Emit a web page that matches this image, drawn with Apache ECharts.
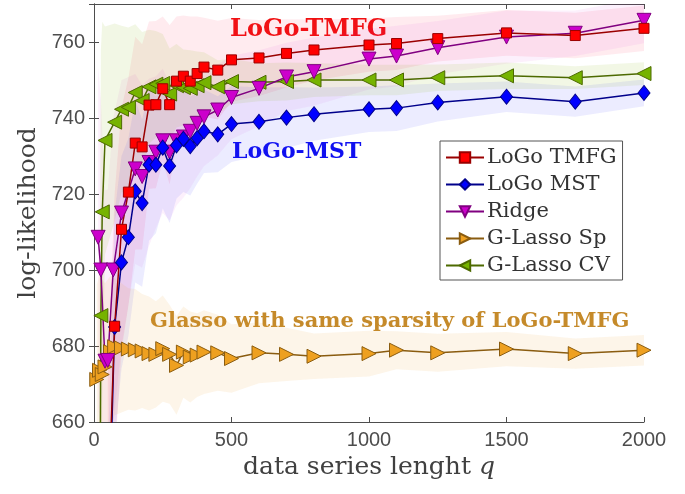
<!DOCTYPE html>
<html>
<head>
<meta charset="utf-8">
<script src="https://cdn.jsdelivr.net/npm/echarts@6/dist/echarts.min.js"></script>
<style>
  html, body { margin: 0; padding: 0; background: #fff; }
  #chart { width: 685px; height: 494px; }
</style>
</head>
<body>
<div id="chart"></div>
<script>
// x positions (q) and mean log-likelihood per method
const tmfgX = [50, 75, 100, 125, 150, 175, 200, 225, 250, 275, 300, 325, 350, 375, 400, 450, 500, 600, 700, 800, 1000, 1100, 1250, 1500, 1750, 2000]
const tmfgY = [633, 685.2, 710.7, 720.5, 733.4, 732.4, 743.4, 743.5, 747.7, 743.5, 749.7, 751, 749.7, 751.7, 753.4, 752.6, 755.3, 755.8, 757, 757.9, 759.2, 759.6, 760.9, 762.4, 761.7, 763.6]
const tmfgSpread = [40, 35, 32, 30, 28, 27, 22, 22, 19, 21, 17, 16, 17, 15, 13, 13, 11, 10, 9, 8, 7, 7, 6, 6, 6, 6]

const mstX = [50, 75, 100, 125, 150, 175, 200, 225, 250, 275, 300, 325, 350, 375, 400, 450, 500, 600, 700, 800, 1000, 1100, 1250, 1500, 1750, 2000]
const mstY = [620, 685, 702, 708.6, 720.7, 717.6, 727.7, 727.7, 732.2, 727.4, 732.8, 734.5, 732.6, 734.7, 736.5, 735.7, 738.4, 739, 740.1, 741, 742.3, 742.6, 744.1, 745.6, 744.3, 746.6]
const mstSpread = [30, 30, 28, 26, 24, 22, 20, 18, 16, 15, 14, 14, 13, 12, 11, 10, 10, 9, 8, 7, 6, 6, 5, 4, 4, 3.5]

const ridgeX = [15, 25, 40, 50, 70, 100, 150, 175, 200, 225, 250, 275, 300, 325, 350, 375, 400, 450, 500, 600, 700, 800, 1000, 1100, 1250, 1500, 1750, 2000]
const ridgeY = [708.6, 700, 676, 676.2, 700, 715, 726.6, 724.6, 728.3, 731, 734, 731, 734, 735, 736.5, 738.6, 740.3, 742.1, 745.4, 747.8, 750.8, 752.2, 755.5, 756.3, 758.5, 761.3, 762.3, 765.7]
const ridgeSpread = [45, 45, 45, 45, 40, 35, 25, 24, 22, 20, 19, 18, 17, 16, 15, 14, 13, 12, 11, 10, 9, 9, 8, 8, 7, 7, 6, 6]

const spX = [10, 20, 30, 40, 60, 75, 100, 125, 150, 175, 200, 225, 250, 275, 300, 325, 350, 375, 400, 450, 500, 600, 700, 800, 1000, 1100, 1250, 1500, 1750, 2000]
const spY = [671.2, 673.6, 672.5, 674.5, 678.5, 679.8, 679.5, 679.2, 679, 678.7, 678, 677.8, 679.3, 677.8, 674.9, 678.4, 677.1, 677.6, 678.4, 678.2, 676.7, 678.2, 677.8, 677.3, 678, 678.9, 678.2, 679.2, 678, 678.9]
const spSpread = [25, 25, 25, 22, 20, 18, 17, 16, 16, 15, 15, 14, 14, 13, 13, 12, 12, 11, 11, 10, 9, 8, 7, 6, 6, 5, 5, 4.5, 4, 4]

const cvX = [20, 25, 30, 40, 75, 100, 125, 150, 175, 200, 225, 250, 275, 300, 325, 350, 375, 400, 450, 500, 600, 700, 800, 1000, 1100, 1250, 1500, 1750, 2000]
const cvY = [600, 688, 715.3, 734.1, 738.9, 742.3, 742.8, 746.7, 744.6, 748.2, 748.9, 749.1, 746.3, 748.5, 748, 747.8, 748.5, 749.3, 748.2, 749.6, 749.4, 749.6, 750, 750, 750, 750.6, 751.1, 750.6, 751.7]
const cvSpread = [80, 70, 50, 30, 26, 22, 21, 18, 18, 15, 14, 13, 12, 11, 10, 10, 9, 8, 7, 6, 5, 5, 4.5, 4, 4, 3.5, 3.5, 3, 3]

const xTicks = [0, 500, 1000, 1500, 2000]
const yTicks = [660, 680, 700, 720, 740, 760]

const axisColor = '#4d4d4d'
const serif = 'DejaVu Serif'

const chart = echarts.init(document.getElementById('chart'))

// shaded band around a curve (mean ± spread)
const band = (name, xs, ys, spread, color) => ({
  name: name + ' band',
  type: 'custom',
  clip: true,
  silent: true,
  z: 1,
  encode: { x: 0, y: 1 },
  data: [[xs[0], ys[0]]],
  renderItem: (params, api) => {
    const upper = xs.map((x, i) => api.coord([x, ys[i] + spread[i]]))
    const lower = xs.map((x, i) => api.coord([x, ys[i] - spread[i]])).reverse()
    return {
      type: 'polygon',
      shape: { points: upper.concat(lower) },
      style: { fill: color },
    }
  },
})

const line = (name, xs, ys, lineColor, fill, symbol, size, rotate) => ({
  name,
  type: 'line',
  z: 3,
  data: xs.map((x, i) => [x, ys[i]]),
  symbol,
  symbolSize: size,
  symbolRotate: rotate,
  showAllSymbol: true,
  lineStyle: { color: lineColor, width: 1.5 },
  itemStyle: { color: fill, borderColor: lineColor, borderWidth: 1 },
  emphasis: { disabled: true },
})

const options = {
  animation: false,
  grid: { left: 94, right: 41, top: 4, bottom: 72 },
  xAxis: [
    {
      type: 'value',
      min: 0,
      max: 2000,
      interval: 500,
      position: 'bottom',
      axisLine: { lineStyle: { color: axisColor } },
      axisTick: { inside: true, length: 5, lineStyle: { color: axisColor } },
      splitLine: { show: false },
      axisLabel: {
        fontFamily: 'Liberation Sans',
        fontSize: 20,
        color: axisColor,
        margin: 8,
        formatter: (v) => (xTicks.includes(v) ? String(v) : ''),
      },
      name: '{a|data series lenght }{b|q}',
      nameLocation: 'middle',
      nameGap: 22,
      nameTextStyle: {
        rich: {
          a: { fontFamily: serif, fontSize: 25, color: '#404040' },
          b: { fontFamily: serif, fontSize: 25, color: '#404040', fontStyle: 'italic' },
        },
      },
    },
    {
      type: 'value',
      min: 0,
      max: 2000,
      interval: 500,
      position: 'top',
      axisLine: { lineStyle: { color: axisColor } },
      axisTick: { inside: true, length: 5, lineStyle: { color: axisColor } },
      axisLabel: { show: false },
      splitLine: { show: false },
    },
  ],
  yAxis: [
    {
      type: 'value',
      min: 660,
      max: 770,
      interval: 20,
      position: 'left',
      axisLine: { show: true, lineStyle: { color: axisColor } },
      axisTick: { show: true, inside: true, length: 5, lineStyle: { color: axisColor } },
      splitLine: { show: false },
      axisLabel: {
        fontFamily: 'Liberation Sans',
        fontSize: 20,
        color: axisColor,
        margin: 9,
        showMaxLabel: false,
        formatter: (v) => (yTicks.includes(v) ? String(v) : ''),
      },
      name: 'log-likelihood',
      nameLocation: 'middle',
      nameGap: 50,
      nameTextStyle: { fontFamily: serif, fontSize: 25, color: '#404040' },
    },
    {
      type: 'value',
      min: 660,
      max: 770,
      interval: 20,
      position: 'right',
      axisLine: { show: true, lineStyle: { color: axisColor } },
      axisTick: { show: true, inside: true, length: 5, lineStyle: { color: axisColor } },
      axisLabel: { show: false },
      splitLine: { show: false },
    },
  ],
  legend: {
    data: ['LoGo TMFG', 'LoGo MST', 'Ridge', 'G-Lasso Sp', 'G-Lasso CV'],
    orient: 'vertical',
    left: 440,
    top: 141,
    padding: [6, 6, 4, 5],
    itemWidth: 38,
    itemHeight: 13,
    itemGap: 6,
    borderColor: '#555',
    borderWidth: 1,
    backgroundColor: '#fff',
    textStyle: { fontFamily: serif, fontSize: 21, color: '#333', padding: [0, 0, 0, -2] },
  },
  graphic: [
    {
      type: 'text',
      left: 230,
      top: 18,
      style: { text: 'LoGo-TMFG', fontFamily: serif, fontWeight: 'bold', fontSize: 24, fill: '#f01010' },
    },
    {
      type: 'text',
      left: 232,
      top: 141,
      style: { text: 'LoGo-MST', fontFamily: serif, fontWeight: 'bold', fontSize: 22, fill: '#1010f0' },
    },
    {
      type: 'text',
      left: 150,
      top: 311,
      style: {
        text: 'Glasso with same sparsity of LoGo-TMFG',
        fontFamily: serif,
        fontWeight: 'bold',
        fontSize: 21,
        fill: '#c58a2a',
      },
    },
  ],
  series: [
    band('LoGo TMFG', tmfgX, tmfgY, tmfgSpread, 'rgba(255, 30, 80, 0.09)'),
    band('Ridge', ridgeX, ridgeY, ridgeSpread, 'rgba(200, 0, 200, 0.06)'),
    band('LoGo MST', mstX, mstY, mstSpread, 'rgba(40, 40, 255, 0.09)'),
    band('G-Lasso Sp', spX, spY, spSpread, 'rgba(240, 160, 40, 0.1)'),
    band('G-Lasso CV', cvX, cvY, cvSpread, 'rgba(130, 180, 0, 0.1)'),
    line('G-Lasso Sp', spX, spY, '#8a5c10', '#eea020', 'triangle', 14, -90),
    line('G-Lasso CV', cvX, cvY, '#4d6a00', '#76b300', 'triangle', 14, 90),
    line('Ridge', ridgeX, ridgeY, '#800080', '#cc00cc', 'triangle', 14, 180),
    line('LoGo MST', mstX, mstY, '#00008b', '#0000ff', 'diamond', [12, 15], 0),
    line('LoGo TMFG', tmfgX, tmfgY, '#9a0000', '#ff0000', 'rect', 10, 0),
  ],
}

chart.setOption(options)
</script>
</body>
</html>
